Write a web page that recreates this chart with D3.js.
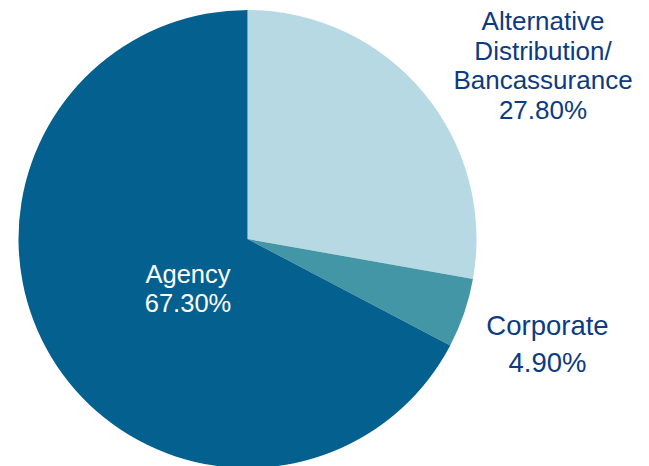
<!DOCTYPE html>
<html>
<head>
<meta charset="utf-8">
<script src="https://cdn.jsdelivr.net/npm/d3@7"></script>
<style>
  html, body { margin: 0; padding: 0; background: #ffffff; }
  svg { display: block; }
</style>
</head>
<body>
<svg id="chart" width="649" height="466"></svg>
<script>
// Distribution channel mix
const channels = ["Alternative Distribution/Bancassurance", "Corporate", "Agency"];
const shares = [27.8, 4.9, 67.3];
const sliceColors = ["#b6d9e4", "#4396a5", "#03608f"];

const width = 649, height = 466;
const cx = 247.5, cy = 239, radius = 229;

const svg = d3.select("#chart");
const g = svg.append("g").attr("transform", `translate(${cx},${cy})`);

const pie = d3.pie().sort(null).value(d => d.value);
const arc = d3.arc().innerRadius(0).outerRadius(radius);

const data = channels.map((c, i) => ({ name: c, value: shares[i], color: sliceColors[i] }));
const arcs = pie(data);

g.selectAll("path")
  .data(arcs)
  .join("path")
  .attr("d", arc)
  .attr("fill", d => d.data.color);

const fmt = v => v.toFixed(2) + "%";
const textColor = "#0d3b82";
const family = "'Liberation Sans', Arial, sans-serif";

// Outside labels for the two smaller channels
const outside = [
  { lines: ["Alternative", "Distribution/", "Bancassurance", fmt(shares[0])], x: 543, y: 30, size: 26, step: 29.5 },
  { lines: ["Corporate", fmt(shares[1])], x: 547.5, y: 335, size: 27.5, step: 37 }
];

outside.forEach(lbl => {
  const t = svg.append("text")
    .attr("x", lbl.x)
    .attr("y", lbl.y)
    .attr("text-anchor", "middle")
    .attr("fill", textColor)
    .style("font-family", family)
    .style("font-size", lbl.size + "px");
  lbl.lines.forEach((line, i) => {
    t.append("tspan").attr("x", lbl.x).attr("dy", i === 0 ? 0 : lbl.step).text(line);
  });
});

// Inside label for the largest channel
const inner = svg.append("text")
  .attr("x", 188)
  .attr("y", 283)
  .attr("text-anchor", "middle")
  .attr("fill", "#ffffff")
  .style("font-family", family)
  .style("font-size", "25.5px");
[channels[2], fmt(shares[2])].forEach((line, i) => {
  inner.append("tspan").attr("x", 188).attr("dy", i === 0 ? 0 : 28.5).text(line);
});
</script>
</body>
</html>
